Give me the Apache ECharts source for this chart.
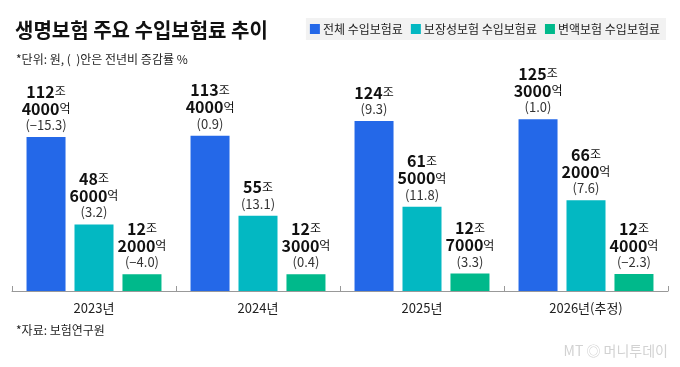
<!DOCTYPE html>
<html>
<head>
<meta charset="utf-8">
<script src="https://cdn.jsdelivr.net/npm/echarts@6/dist/echarts.min.js"></script>
<style>
  html, body { margin: 0; padding: 0; background: #fff; }
  #chart { width: 680px; height: 367px; }
</style>
</head>
<body>
<div id="chart"></div>
<script>
// 데이터 (단위: 조원, 괄호는 전년비 증감률 %)
var years = ['2023년', '2024년', '2025년', '2026년(추정)'];
var seriesNames = ['전체 수입보험료', '보장성보험 수입보험료', '변액보험 수입보험료'];
var totalPremium = [112.4, 113.4, 124, 125.3];
var protectionPremium = [48.6, 55, 61.5, 66.2];
var variablePremium = [12.2, 12.3, 12.7, 12.4];
var totalChange = ['−15.3', '0.9', '9.3', '1.0'];
var protectionChange = ['3.2', '13.1', '11.8', '7.6'];
var variableChange = ['−4.0', '0.4', '3.3', '−2.3'];

var colors = ['#2468E8', '#03B8C2', '#00B98B'];
var krFont = "'Noto Sans CJK KR', sans-serif";

// 112.4 -> 112조 4000억
function makeLabel(changes) {
    return function (p) {
        var v = p.value;
        var jo = Math.floor(v + 1e-9);
        var eok = Math.round((v - jo) * 10000);
        var s = '{n|' + jo + '}{u|조}';
        if (eok > 0) s += '\n{n|' + eok + '}{u|억}';
        s += '\n{p|(' + changes[p.dataIndex] + ')}';
        return s;
    };
}

var labelRich = {
    n: { fontFamily: krFont, fontSize: 16, fontWeight: 'bold', color: '#111', lineHeight: 17 },
    u: { fontFamily: krFont, fontSize: 12, color: '#111', lineHeight: 17 },
    p: { fontFamily: krFont, fontSize: 13, color: '#333', lineHeight: 16 }
};

function makeSeries(i, data, changes) {
    return {
        name: seriesNames[i],
        type: 'bar',
        barWidth: 39,
        barGap: '23%',
        itemStyle: { color: colors[i] },
        label: {
            show: true,
            position: 'top',
            distance: 4,
            align: 'center',
            formatter: makeLabel(changes),
            rich: labelRich
        },
        data: data
    };
}

var myChart = echarts.init(document.getElementById('chart'));
myChart.setOption({
    animation: false,
    title: [
        {
            text: '생명보험 주요 수입보험료 추이',
            left: 10,
            top: 15,
            textStyle: { fontFamily: krFont, fontSize: 20, fontWeight: 'bold', color: '#111' }
        },
        {
            text: '*단위: 원, (  )안은 전년비 증감률 %',
            left: 11,
            top: 48,
            textStyle: { fontFamily: krFont, fontSize: 12, fontWeight: 'normal', color: '#222' }
        },
        {
            text: '*자료: 보험연구원',
            left: 11,
            top: 319,
            textStyle: { fontFamily: krFont, fontSize: 12, fontWeight: 'normal', color: '#222' }
        }
    ],
    legend: {
        right: 14,
        top: 18,
        itemWidth: 10,
        itemHeight: 10,
        itemGap: 8,
        icon: 'rect',
        backgroundColor: '#f2f2f2',
        padding: [5, 6, 5, 4],
        textStyle: { fontFamily: krFont, fontSize: 12, color: '#222', padding: [0, 0, 0, -2] },
        data: seriesNames
    },
    grid: { left: 12, right: 12, top: 85.5, bottom: 76 },
    xAxis: {
        type: 'category',
        data: years,
        axisLine: { lineStyle: { color: '#999', width: 1 } },
        axisTick: { show: true, inside: true, length: 5, lineStyle: { color: '#999' } },
        axisLabel: { fontFamily: krFont, fontSize: 13, color: '#222', margin: 11 }
    },
    yAxis: {
        type: 'value',
        min: 0,
        max: 150,
        show: false,
        splitLine: { show: false }
    },
    graphic: [
        {
            type: 'text',
            right: 12,
            top: 344,
            style: {
                text: 'MT ◎ 머니투데이',
                fontFamily: krFont,
                fontSize: 14,
                fill: '#d2d2d2'
            }
        }
    ],
    series: [
        makeSeries(0, totalPremium, totalChange),
        makeSeries(1, protectionPremium, protectionChange),
        makeSeries(2, variablePremium, variableChange)
    ]
});
</script>
</body>
</html>
